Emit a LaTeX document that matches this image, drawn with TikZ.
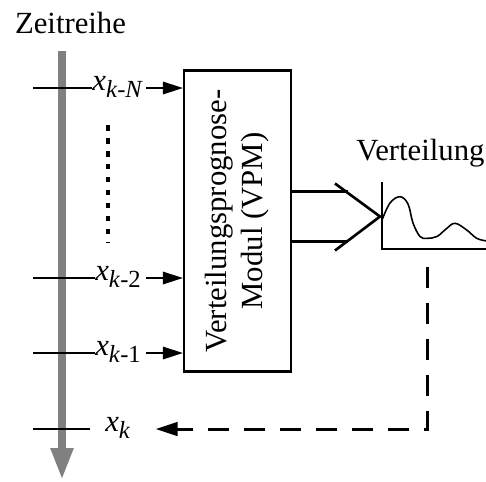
\documentclass[tikz,border=0pt]{standalone}
\usepackage{fontspec}
\setmainfont{Liberation Serif}
\usepackage{tikz}
\usetikzlibrary{positioning,arrows.meta}

\newcommand{\xsub}[1]{\textit{x}\raisebox{-4.5pt}{\fontsize{14}{14}\selectfont #1}}

\begin{document}
\begin{tikzpicture}[
  x=0.02cm, y=-0.02cm,
  every node/.style={font=\fontsize{17.5}{20.5}\selectfont},
  lbl/.style={anchor=base west, inner sep=0pt},
  module/.style={rectangle, draw, line width=1.3pt, rotate=90,
    minimum width=6.02cm, minimum height=2.14cm, align=center, inner sep=0pt},
  timeline/.style={line width=4.5pt, gray, -{Triangle[length=0.64cm, width=0.42cm]}},
  tick/.style={line width=0.95pt},
  feed/.style={line width=0.95pt, -{Triangle[length=0.4cm, width=0.25cm]}},
  back/.style={line width=1.7pt, dash pattern=on 0.42cm off 0.3cm,
    -{Triangle[length=0.44cm, width=0.27cm]}},
  dots/.style={line width=2pt, dash pattern=on 0.11cm off 0.15cm}
]
  \useasboundingbox (0,0) rectangle (486,481);

  \node[anchor=base] (title) at (70.5,33) {Zeitreihe};
  \draw[timeline] (62,51) -- (62,480);

  \coordinate (tN) at (33,88);
  \coordinate (t2) at (33,278);
  \coordinate (t1) at (33,353);
  \coordinate (tk) at (33,429);

  \node[lbl] (xN) at (92,90)  {\xsub{\textit{k}-\textit{N}}};
  \node[lbl] (x2) at (95,280) {\xsub{\textit{k}-2}};
  \node[lbl] (x1) at (95,355) {\xsub{\textit{k}-1}};
  \node[lbl] (xk) at (105,431) {\xsub{\textit{k}}};

  \node[module] (vpm) at (237.5,221) {Verteilungsprognose-\\Modul (VPM)};

  \draw[tick] (tN) -- (tN -| xN.west);
  \draw[tick] (t2) -- (t2 -| x2.west);
  \draw[tick] (t1) -- (t1 -| x1.west);
  \draw[tick] (tk) -- ++(57,0);

  \draw[feed] ([xshift=0.05cm]xN.east |- tN) -- (tN -| vpm.north);
  \draw[feed] ([xshift=0.1cm]x2.east |- t2) -- (t2 -| vpm.north);
  \draw[feed] ([xshift=0.1cm]x1.east |- t1) -- (t1 -| vpm.north);

  \draw[dots] (108,125) -- (108,242);

  % Verteilung
  \node[anchor=base] (dist) at (420.5,160) {Verteilung};
  \coordinate (tip) at (380,216.5);
  \coordinate (org) at (382,249);
  \draw[line width=1.3pt] ([yshift=1.34cm]org) -- (org) -- (487,249);
  \draw[line width=0.9pt] plot[smooth, tension=0.6] coordinates {(382,220) (390,203) (400,196.7)
    (408,204) (413,223) (420,236.5) (427,238.3) (437,236.5) (446,229) (455,223.3)
    (466.7,230) (476.7,238.3) (487,241)};
  \draw[line width=1.5pt] ([yshift=0.494cm]vpm.south |- tip) -- ++(56,0);
  \draw[line width=1.5pt] ([yshift=-0.494cm]vpm.south |- tip) -- ++(56,0);
  \draw[line width=1.5pt] ([shift={(-45,-33)}]tip) -- (tip) -- ([shift={(-45,34)}]tip);

  \coordinate (ret) at (427,267);
  \draw[back] (ret) |- ([xshift=0.5cm]tk -| xk.east);
\end{tikzpicture}
\end{document}
